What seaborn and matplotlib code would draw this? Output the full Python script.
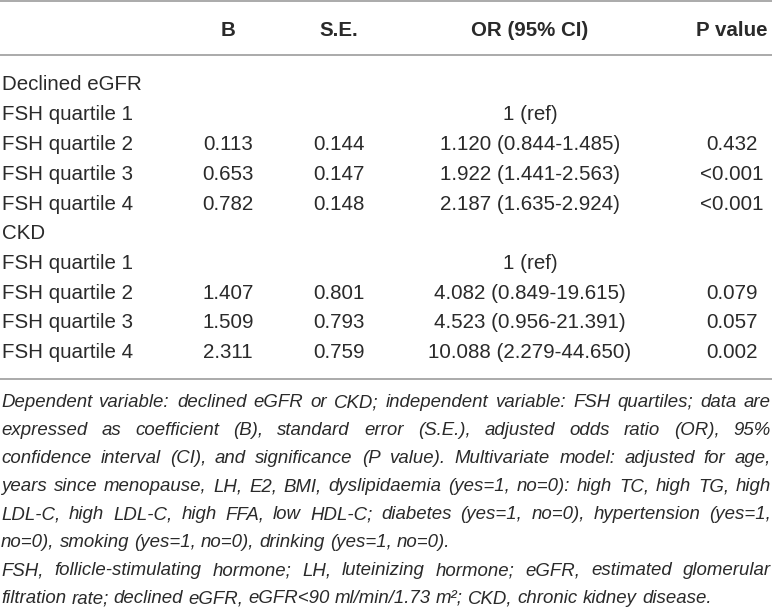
import pandas as pd
import seaborn as sns
import matplotlib
matplotlib.use("Agg")
import matplotlib.pyplot as plt
from matplotlib.font_manager import FontProperties

# table content
columns = ['B', 'S.E.', 'OR (95% CI)', 'P value']
groups = ['Declined eGFR', 'CKD']
quartiles = ['FSH quartile 1', 'FSH quartile 2', 'FSH quartile 3', 'FSH quartile 4']

egfr_b = ['', '0.113', '0.653', '0.782']
egfr_se = ['', '0.144', '0.147', '0.148']
egfr_or = ['1 (ref)', '1.120 (0.844-1.485)', '1.922 (1.441-2.563)', '2.187 (1.635-2.924)']
egfr_p = ['', '0.432', '<0.001', '<0.001']

ckd_b = ['', '1.407', '1.509', '2.311']
ckd_se = ['', '0.801', '0.793', '0.759']
ckd_or = ['1 (ref)', '4.082 (0.849-19.615)', '4.523 (0.956-21.391)', '10.088 (2.279-44.650)']
ckd_p = ['', '0.079', '0.057', '0.002']

note_lines = [
    "Dependent variable: declined eGFR or CKD; independent variable: FSH quartiles; data are",
    "expressed as coefficient (B), standard error (S.E.), adjusted odds ratio (OR), 95%",
    "confidence interval (CI), and significance (P value). Multivariate model: adjusted for age,",
    "years since menopause, LH, E2, BMI, dyslipidaemia (yes=1, no=0): high TC, high TG, high",
    "LDL-C, high LDL-C, high FFA, low HDL-C; diabetes (yes=1, no=0), hypertension (yes=1,",
    "no=0), smoking (yes=1, no=0), drinking (yes=1, no=0).",
    "FSH, follicle-stimulating hormone; LH, luteinizing hormone; eGFR, estimated glomerular",
    "filtration rate; declined eGFR, eGFR<90 ml/min/1.73 m\u00b2; CKD, chronic kidney disease.",
]
note_justify = [True, True, True, True, True, False, True, False]

# build rows
rows = []
for g, b, se, o, p in [(groups[0], egfr_b, egfr_se, egfr_or, egfr_p),
                       (groups[1], ckd_b, ckd_se, ckd_or, ckd_p)]:
    rows.append([g, '', '', '', ''])
    for i, q in enumerate(quartiles):
        rows.append([q, b[i], se[i], o[i], p[i]])
df = pd.DataFrame(rows, columns=['label'] + columns)

sns.set_theme(style='white')
plt.rcParams['font.family'] = ['Liberation Sans', 'DejaVu Sans']

W, H = 772, 611
fig = plt.figure(figsize=(W / 100, H / 100), dpi=100)
ax = fig.add_axes([0, 0, 1, 1])
ax.set_xlim(0, W)
ax.set_ylim(H, 0)
ax.axis('off')

txt = '#2a2a2a'
line_col = '#9c9c9c'
col_x = [228, 339, 530, 732]
fs = 14.8

# rules
for y in [1.2, 55, 379]:
    ax.axhline(y, color=line_col, lw=1.2)

# header
for x, c in zip(col_x, columns):
    ax.text(x, 36, c, ha='center', va='baseline', fontsize=fs,
            fontweight='bold', color=txt)

# body
row0, row_h = 90.5, 29.75
for i, r in df.iterrows():
    y = row0 + i * row_h
    ax.text(2, y, r['label'], ha='left', va='baseline', fontsize=fs, color=txt)
    for x, c in zip(col_x, columns):
        if r[c]:
            ax.text(x, y, r[c], ha='center', va='baseline', fontsize=fs, color=txt)

# footnote, justified
renderer = fig.canvas.get_renderer()
note_fs = 13.4


def text_w(s, prop):
    return renderer.get_text_width_height_descent(s, prop, ismath=False)[0]


prop = FontProperties(family='Liberation Sans', style='italic', size=note_fs)
widest = max(text_w(l, prop) for l in note_lines)
if widest > W - 4:
    note_fs *= (W - 4) / widest
    prop = FontProperties(family='Liberation Sans', style='italic', size=note_fs)

space_w = text_w('a b', prop) - text_w('ab', prop)
note0, note_h = 407, 28
for k, line in enumerate(note_lines):
    y = note0 + k * note_h
    words = line.split(' ')
    ww = [text_w(w, prop) for w in words]
    if note_justify[k] and len(words) > 1:
        gap = (W - 2 - sum(ww)) / (len(words) - 1)
    else:
        gap = space_w
    x = 1
    for w, wd in zip(words, ww):
        ax.text(x, y, w, ha='left', va='baseline', fontproperties=prop, color=txt)
        x += wd + gap

fig.savefig('out.png', dpi=100)
